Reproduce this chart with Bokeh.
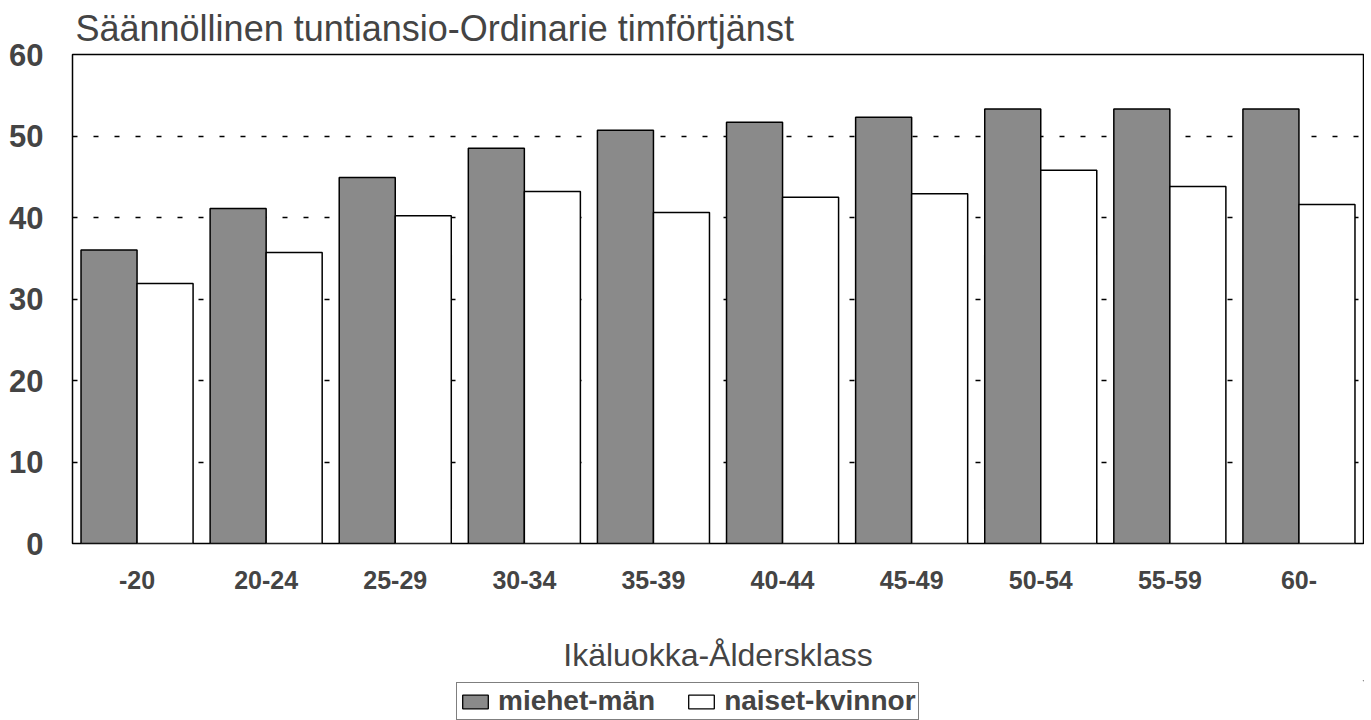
from bokeh.plotting import figure
from bokeh.layouts import column
from bokeh.models import FactorRange, FixedTicker, Legend, LegendItem, ColumnDataSource, Range1d
from bokeh.transform import dodge
from bokeh.embed import file_html
from bokeh.resources import INLINE

categories = ["-20", "20-24", "25-29", "30-34", "35-39", "40-44", "45-49", "50-54", "55-59", "60-"]
miehet = [36.0, 41.1, 44.9, 48.5, 50.7, 51.7, 52.3, 53.3, 53.3, 53.3]
naiset = [31.9, 35.7, 40.2, 43.2, 40.6, 42.5, 42.9, 45.8, 43.8, 41.6]
y_ticks = [0, 10, 20, 30, 40, 50, 60]

title_text = "Säännöllinen tuntiansio-Ordinarie timförtjänst"
x_label = "Ikäluokka-Åldersklass"
series_names = ["miehet-män", "naiset-kvinnor"]

FONT = "Liberation Sans"
M_FILL = "#8a8a8a"

src = ColumnDataSource(dict(cat=categories, m=miehet, n=naiset))

p = figure(width=1364, height=680, x_range=FactorRange(*categories, range_padding=0),
           y_range=Range1d(0, 60), output_backend="svg", toolbar_location=None,
           min_border_left=72, min_border_right=1, min_border_top=54, min_border_bottom=137)

p.title.text = title_text
p.title.text_font = FONT
p.title.text_font_size = "36px"
p.title.text_font_style = "normal"
p.title.align = "left"
p.title.offset = 3
p.title.standoff = 11

p.ygrid.ticker = FixedTicker(ticks=y_ticks)
p.ygrid.grid_line_color = "black"
p.ygrid.grid_line_dash = "5 16"
p.ygrid.grid_line_width = 1.3
p.xgrid.grid_line_color = None

p.vbar(x=dodge("cat", -0.217, range=p.x_range), top="m", width=0.434, source=src,
       fill_color=M_FILL, line_color="black", line_width=1.5)
p.vbar(x=dodge("cat", 0.217, range=p.x_range), top="n", width=0.434, source=src,
       fill_color="white", line_color="black", line_width=1.5)

p.yaxis.ticker = FixedTicker(ticks=y_ticks)
p.yaxis.major_label_text_font = FONT
p.yaxis.major_label_text_font_size = "31px"
p.yaxis.major_label_text_font_style = "bold"
p.yaxis.major_label_standoff = 29
p.yaxis.major_tick_out = 0
p.yaxis.major_tick_in = 0
p.yaxis.minor_tick_out = 0
p.yaxis.axis_line_color = None

p.xaxis.major_label_text_font = FONT
p.xaxis.major_label_text_font_size = "25px"
p.xaxis.major_label_text_font_style = "bold"
p.xaxis.major_label_standoff = 27
p.xaxis.major_tick_out = 0
p.xaxis.major_tick_in = 0
p.xaxis.axis_line_color = None
p.xaxis.axis_label = x_label
p.xaxis.axis_label_text_font = FONT
p.xaxis.axis_label_text_font_size = "32px"
p.xaxis.axis_label_text_font_style = "normal"
p.xaxis.axis_label_standoff = 45

p.outline_line_color = "black"
p.outline_line_width = 1.5

# legend strip (its frame is aligned with the main plot's frame)
q = figure(width=1364, height=40, x_range=Range1d(0, 1), y_range=Range1d(0, 1),
           output_backend="svg", toolbar_location=None,
           x_axis_location=None, y_axis_location=None,
           min_border_left=0, min_border_right=0, min_border_top=0, min_border_bottom=0)
q.grid.grid_line_color = None
q.outline_line_color = None
hidden = ColumnDataSource(dict(x=[100.0], top=[101.0], bottom=[100.0]))
lr1 = q.vbar(x="x", top="top", bottom="bottom", width=0.1, source=hidden,
             fill_color=M_FILL, line_color="black", line_width=1.3)
lr2 = q.vbar(x="x", top="top", bottom="bottom", width=0.1, source=hidden,
             fill_color="white", line_color="black", line_width=1.3)

legend = Legend(items=[LegendItem(label=series_names[0], renderers=[lr1]),
                       LegendItem(label=series_names[1], renderers=[lr2])],
                orientation="horizontal", location=(384, 0))
legend.label_text_font = FONT
legend.label_text_font_size = "28px"
legend.label_text_font_style = "bold"
legend.glyph_width = 32
legend.glyph_height = 17
legend.label_standoff = 7
legend.spacing = 30
legend.padding = 2
legend.margin = 0
legend.border_line_color = "black"
legend.border_line_width = 1.3
legend.background_fill_alpha = 1
q.add_layout(legend, "center")

layout = column(p, q, spacing=0)
open("out.html", "w").write(file_html(layout, INLINE))
